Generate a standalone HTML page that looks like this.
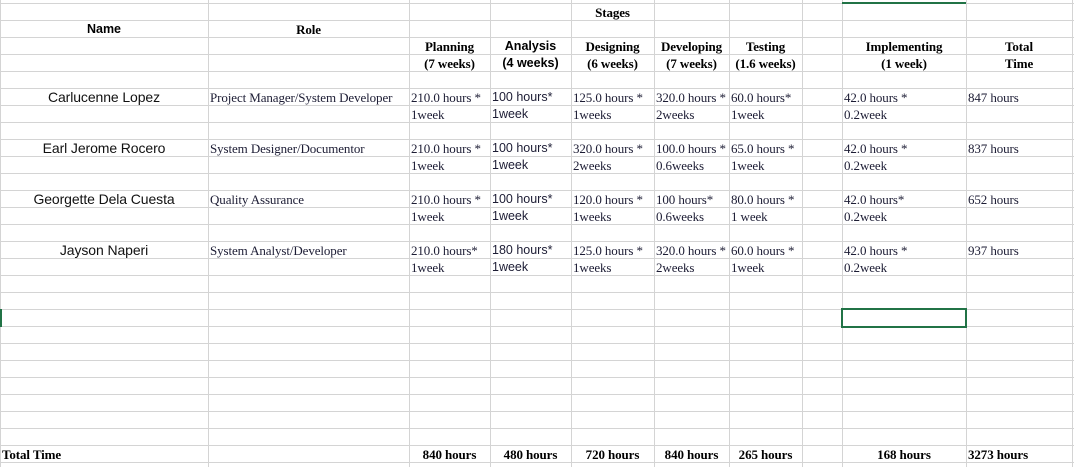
<!DOCTYPE html>
<html><head><meta charset="utf-8"><style>
body{margin:0;width:1074px;height:467px;overflow:hidden;background:#fff;position:relative}
.v{position:absolute;top:0;width:1px;height:467px;background:#d4d4d4}
.h{position:absolute;left:0;width:1074px;height:1px;background:#d4d4d4}
.c{position:absolute;height:17px;line-height:17px;white-space:nowrap;overflow:visible;font-family:"Liberation Serif",serif;font-size:13px;letter-spacing:-0.1px;color:#1c1c34;padding-top:1px;box-sizing:border-box}
.s{font-family:"Liberation Sans",sans-serif;font-size:12.5px;letter-spacing:0}
.n{font-family:"Liberation Sans",sans-serif;font-size:14px;letter-spacing:-0.1px;color:#111}
.b{font-weight:bold;color:#000}
.ctr{text-align:center}
.l{padding-left:2px}
</style></head><body>
<div id="grid"></div>
<div id="cells"></div>
<div style="position:absolute;left:842px;top:2px;width:124px;height:2px;background:#217346"></div>
<div style="position:absolute;left:841px;top:308px;width:122px;height:16px;border:2px solid #217346"></div>
<div style="position:absolute;left:0;top:309px;width:2px;height:18px;background:#217346"></div>
<script>
const colX=[0,208,409,490,571,654,729,802,842,966,1072];
const rowTop=3,rowH=17;
const stages=["Planning","Analysis","Designing","Developing","Testing","Implementing"];
const durations=["(7 weeks)","(4 weeks)","(6 weeks)","(7 weeks)","(1.6 weeks)","(1 week)"];
const names=["Carlucenne Lopez","Earl Jerome Rocero","Georgette Dela Cuesta","Jayson Naperi"];
const roles=["Project Manager/System Developer","System Designer/Documentor","Quality Assurance","System Analyst/Developer"];
const hours=[
 ["210.0 hours *","100 hours*","125.0 hours *","320.0 hours *","60.0 hours*","42.0 hours *"],
 ["210.0 hours *","100 hours*","320.0 hours *","100.0 hours *","65.0 hours *","42.0 hours *"],
 ["210.0 hours *","100 hours*","120.0 hours *","100 hours*","80.0 hours *","42.0 hours*"],
 ["210.0 hours*","180 hours*","125.0 hours *","320.0 hours *","60.0 hours *","42.0 hours *"]];
const weeks=[
 ["1week","1week","1weeks","2weeks","1week","0.2week"],
 ["1week","1week","2weeks","0.6weeks","1week","0.2week"],
 ["1week","1week","1weeks","0.6weeks","1 week","0.2week"],
 ["1week","1week","1weeks","2weeks","1week","0.2week"]];
const totals=["847 hours","837 hours","652 hours","937 hours"];
const stageTotals=["840 hours","480 hours","720 hours","840 hours","265 hours","168 hours"];
const grandTotal="3273 hours";
const stageCols=[2,3,4,5,6,8];

const grid=document.getElementById('grid');
for(const x of colX){const d=document.createElement('div');d.className='v';d.style.left=x+'px';


grid.appendChild(d);}
for(let r=0;r<=27;r++){const d=document.createElement('div');d.className='h';d.style.top=(rowTop+r*rowH)+'px';


grid.appendChild(d);}
const cells=document.getElementById('cells');
function cell(col,row,text,cls,name,span){
 const d=document.createElement('div');
 d.className='c '+cls;
 const x0=colX[col],x1=colX[col+(span||1)];
 d.style.left=x0+'px';d.style.width=(x1-x0)+'px';d.style.top=(rowTop+row*rowH)+'px';
 d.textContent=text;
 
 
 cells.appendChild(d);
}
cell(4,0,"Stages","b ctr","stages-header");
cell(0,1,"Name","s b ctr","name-header");
cell(1,1,"Role","b ctr","role-header");
stages.forEach((s,i)=>{const c=stageCols[i];const sans=i===1?'s ':'';
 cell(c,2,s,sans+"b ctr","stage-header");
 cell(c,3,durations[i],sans+"b ctr","stage-duration");});
cell(9,2,"Total","b ctr","total-time-header");
cell(9,3,"Time","b ctr","total-time-header");
names.forEach((n,p)=>{const r=5+p*3;
 cell(0,r,n,"n ctr","person-name");
 cell(1,r,roles[p],"l","person-role");
 hours[p].forEach((h,i)=>{const c=stageCols[i];const sans=i===1?'s ':'';
  cell(c,r,h,sans+"l","stage-hours");
  cell(c,r+1,weeks[p][i],sans+"l","stage-weeks");});
 cell(9,r,totals[p],"l","person-total");
});
cell(0,26,"Total Time","b l","total-time-label");
stageTotals.forEach((t,i)=>cell(stageCols[i],26,t,"b ctr","stage-total"));
cell(9,26,grandTotal,"b l","grand-total");
</script>
</body></html>
